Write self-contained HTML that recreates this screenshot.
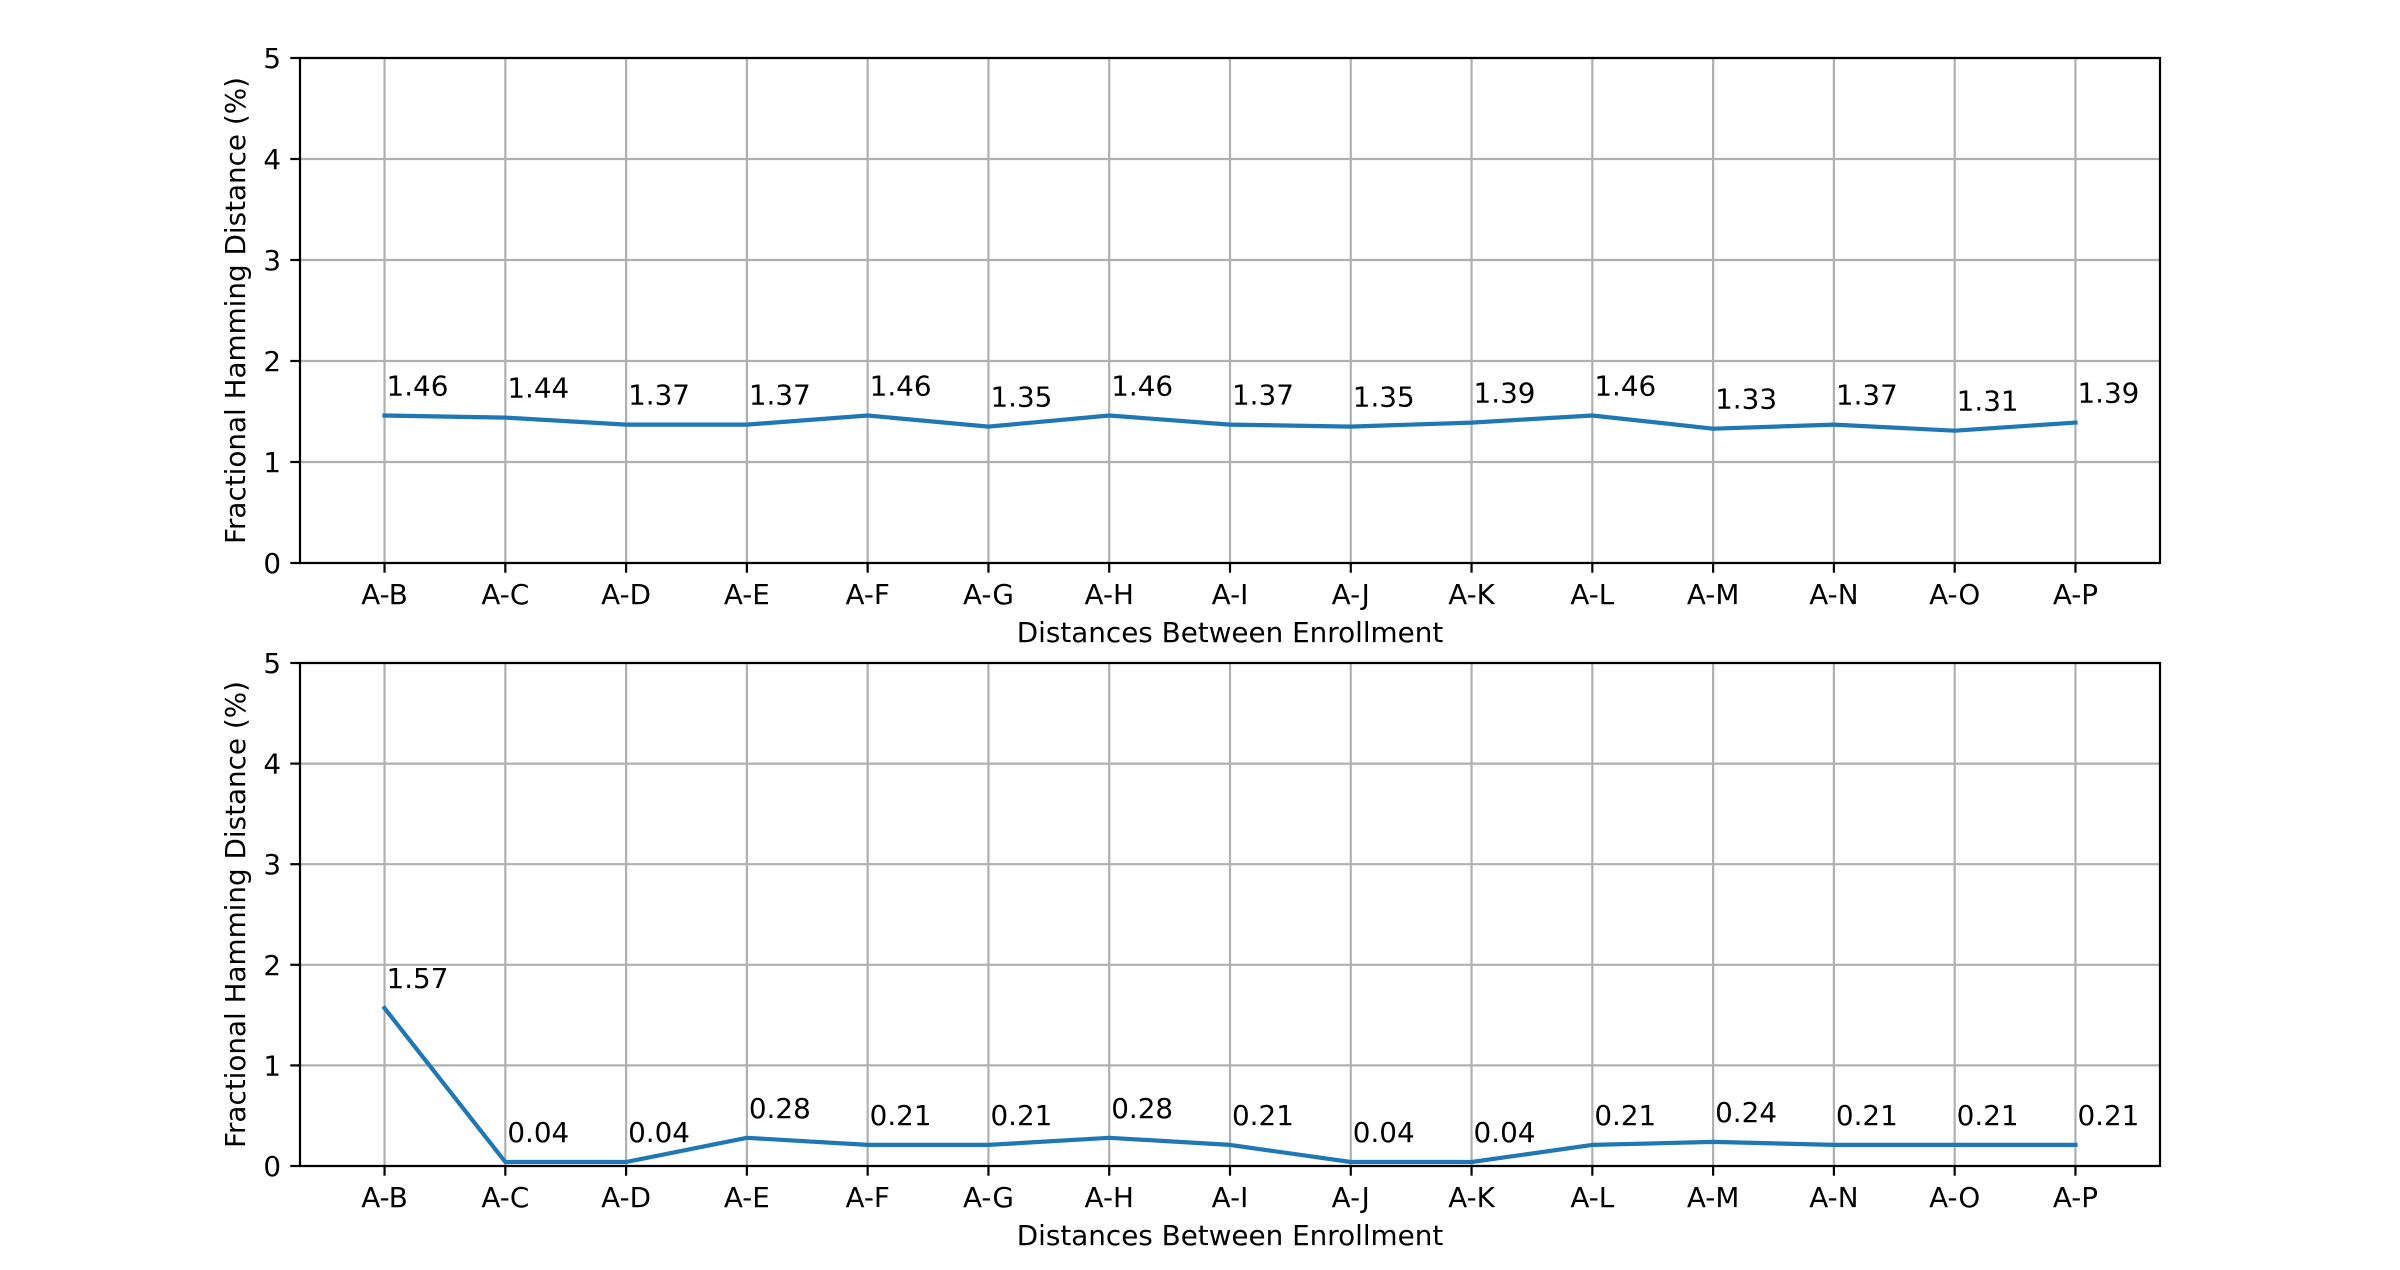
<!DOCTYPE html>
<html><head><meta charset="utf-8"><style>
html,body{margin:0;padding:0;background:#fff;}
svg{display:block;font-family:"DejaVu Sans","Liberation Sans",sans-serif;}
</style></head><body>
<svg id="fig" width="2400" height="1270" viewBox="0 0 2400 1270" xmlns="http://www.w3.org/2000/svg"></svg>
<script>
const categories = ["A-B","A-C","A-D","A-E","A-F","A-G","A-H","A-I","A-J","A-K","A-L","A-M","A-N","A-O","A-P"];
const topValues = [1.46,1.44,1.37,1.37,1.46,1.35,1.46,1.37,1.35,1.39,1.46,1.33,1.37,1.31,1.39];
const bottomValues = [1.57,0.04,0.04,0.28,0.21,0.21,0.28,0.21,0.04,0.04,0.21,0.24,0.21,0.21,0.21];
const yTicks = [0,1,2,3,4,5];

const NS = "http://www.w3.org/2000/svg";
const svg = document.getElementById("fig");
function mk(tag, attrs, parent){
  const e = document.createElementNS(NS, tag);
  for (const k in attrs) e.setAttribute(k, attrs[k]);
  (parent||svg).appendChild(e);
  return e;
}
const L = 300, R = 2160;
const xMin = -0.7, xMax = categories.length - 1 + 0.7;
function xs(i){ return L + (i - xMin) / (xMax - xMin) * (R - L); }

function panel(name, top, bottom, values){
  const g = mk("g", {});
  
  
  const ys = v => bottom - (v - 0) / 5 * (bottom - top);
  yTicks.forEach(t => {
    const l = mk("line", {x1:L, x2:R, y1:ys(t), y2:ys(t), stroke:"#b0b0b0", "stroke-width":2.2}, g);
    
    
  });
  categories.forEach((c,i) => {
    const l = mk("line", {x1:xs(i), x2:xs(i), y1:top, y2:bottom, stroke:"#b0b0b0", "stroke-width":2.2}, g);
    
    
  });
  const pts = values.map((v,i) => xs(i).toFixed(1) + "," + ys(v).toFixed(1)).join(" ");
  const pl = mk("polyline", {points:pts, fill:"none", stroke:"#1f77b4", "stroke-width":4.2, "stroke-linejoin":"round", "stroke-linecap":"square"}, g);
  
  
  values.forEach((v,i) => {
    const t = mk("text", {x:xs(i)+2, y:ys(v)-20, "font-size":27.8, fill:"#000"}, g);
    t.textContent = v.toFixed(2);
    
    
  });
  const sp = mk("rect", {x:L, y:top, width:R-L, height:bottom-top, fill:"none", stroke:"#000", "stroke-width":2.2}, g);
  
  
  yTicks.forEach(t => {
    mk("line", {x1:L-9.7, x2:L, y1:ys(t), y2:ys(t), stroke:"#000", "stroke-width":2.2}, g);
    const tx = mk("text", {x:L-19, y:ys(t)+10, "font-size":27.8, "text-anchor":"end"}, g);
    tx.textContent = t;
    
    
  });
  categories.forEach((c,i) => {
    mk("line", {x1:xs(i), x2:xs(i), y1:bottom, y2:bottom+9.7, stroke:"#000", "stroke-width":2.2}, g);
    const tx = mk("text", {x:xs(i), y:bottom+41, "font-size":27.8, "text-anchor":"middle"}, g);
    tx.textContent = c;
    
    
  });
  const xl = mk("text", {x:(L+R)/2, y:bottom+79, "font-size":27.8, "text-anchor":"middle"}, g);
  xl.textContent = "Distances Between Enrollment";
  
  
  const cy = (top+bottom)/2;
  const yl = mk("text", {x:245, y:cy, "font-size":27.8, "text-anchor":"middle", transform:"rotate(-90 245 "+cy+")"}, g);
  yl.textContent = "Fractional Hamming Distance (%)";
  
  
}
panel("top-chart", 58, 563, topValues);
panel("bottom-chart", 663, 1166, bottomValues);
</script>
</body></html>
